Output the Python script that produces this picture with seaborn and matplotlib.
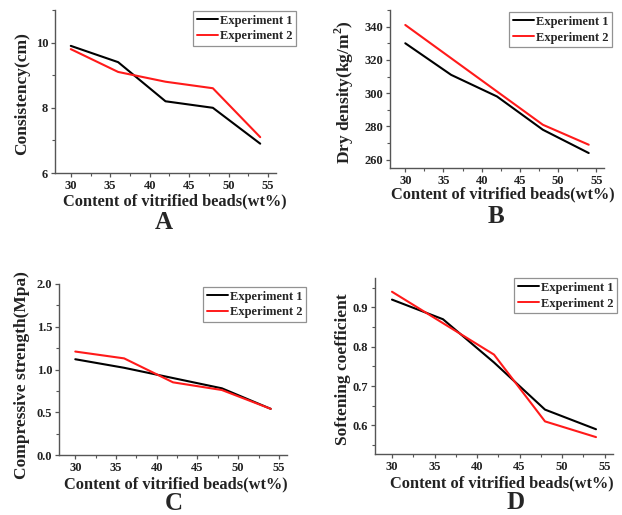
import numpy as np
import pandas as pd
import matplotlib
matplotlib.use("Agg")
import matplotlib.pyplot as plt
from matplotlib.ticker import MultipleLocator
from matplotlib.lines import Line2D
import seaborn as sns

# Vitrified bead content (wt%) shared by all four tests
content = [30, 36, 42, 48, 54]

# A: consistency (cm)
consistency_exp1 = [9.9, 9.4, 8.2, 8.0, 6.9]
consistency_exp2 = [9.8, 9.1, 8.8, 8.6, 7.1]

# B: dry density (kg/m2)
density_exp1 = [330, 311, 298, 278, 264]
density_exp2 = [341, 321, 301, 281, 269]

# C: compressive strength (MPa)
strength_exp1 = [1.12, 1.02, 0.90, 0.78, 0.54]
strength_exp2 = [1.21, 1.13, 0.85, 0.76, 0.54]

# D: softening coefficient
softening_exp1 = [0.92, 0.87, 0.76, 0.64, 0.59]
softening_exp2 = [0.94, 0.86, 0.78, 0.61, 0.57]

series_names = ["Experiment 1", "Experiment 2"]
panel_letters = ["A", "B", "C", "D"]
x_label = "Content of vitrified beads(wt%)"
y_labels = ["Consistency(cm)", "Dry density(kg/m$^2$)",
            "Compressive strength(Mpa)", "Softening coefficient"]

sns.set_theme(style="ticks")
plt.rcParams["font.family"] = ["Liberation Serif", "DejaVu Serif"]
plt.rcParams["font.weight"] = "bold"
plt.rcParams["mathtext.fontset"] = "custom"
plt.rcParams["mathtext.rm"] = "Liberation Serif:bold"

W, H = 622, 515
fig = plt.figure(figsize=(W / 100, H / 100), dpi=100)
fig.patch.set_facecolor("white")

palette = {"Experiment 1": "black", "Experiment 2": "#ff1a1a"}
axis_color = "#555555"


def px_axes(left, right, top, bottom):
    return [left / W, 1 - bottom / H, (right - left) / W, (bottom - top) / H]


def to_axes(ax_box, px, py):
    left, right, top, bottom = ax_box
    return (px - left) / (right - left), (bottom - py) / (bottom - top)


panels = [
    dict(box=(55, 276, 10, 173), e1=consistency_exp1, e2=consistency_exp2,
         ylim=(6, 11), major=2, minor=1, fmt="{:.0f}",
         xl=(175, 193), yl=(30, 94), letter=(164, 229), leg=(193, 11)),
    dict(box=(390, 604, 10, 168), e1=density_exp1, e2=density_exp2,
         ylim=(255, 350), major=20, minor=10, fmt="{:.0f}",
         xl=(503, 186), yl=(356, 92), letter=(496, 223), leg=(509, 12)),
    dict(box=(59, 287, 284, 455), e1=strength_exp1, e2=strength_exp2,
         ylim=(0, 2.0), major=0.5, minor=0.25, fmt="{:.1f}",
         xl=(176, 476), yl=(30, 375), letter=(174, 509.5), leg=(203, 287)),
    dict(box=(375, 613, 278, 454), e1=softening_exp1, e2=softening_exp2,
         ylim=(0.527, 0.975), major=0.1, minor=0.05, fmt="{:.1f}",
         xl=(502, 475), yl=(351, 369), letter=(516, 509), leg=(514, 278)),
]

for i, p in enumerate(panels):
    ax = fig.add_axes(px_axes(*p["box"]))
    df = pd.DataFrame({
        "content": content * 2,
        "value": p["e1"] + p["e2"],
        "series": [series_names[0]] * len(content) + [series_names[1]] * len(content),
    })
    sns.lineplot(data=df, x="content", y="value", hue="series",
                 palette=palette, linewidth=1.5, ax=ax, legend=False)
    ax.set_xlim(28, 56)
    ax.set_ylim(*p["ylim"])
    ax.xaxis.set_major_locator(MultipleLocator(5))
    ax.xaxis.set_minor_locator(MultipleLocator(2.5))
    ax.yaxis.set_major_locator(MultipleLocator(p["major"]))
    ax.yaxis.set_minor_locator(MultipleLocator(p["minor"]))
    ax.set_yticks([t for t in ax.get_yticks() if p["ylim"][0] - 1e-9 <= t <= p["ylim"][1] + 1e-9])
    ax.set_yticklabels([p["fmt"].format(t) for t in ax.get_yticks()])
    sns.despine(ax=ax)
    for s in ("left", "bottom"):
        ax.spines[s].set_color(axis_color)
        ax.spines[s].set_linewidth(1.0)
    ax.tick_params(which="major", length=3, width=0.9, color=axis_color,
                   labelsize=9, labelcolor="#222222", pad=2)
    ax.tick_params(which="minor", length=2, width=0.8, color=axis_color)
    for lab in ax.get_xticklabels() + ax.get_yticklabels():
        lab.set_fontweight("bold")

    ax.set_xlabel(x_label, fontsize=11.8, fontweight="bold", color="#222222")
    ax.xaxis.set_label_coords(*to_axes(p["box"], *p["xl"]))
    ax.set_ylabel(y_labels[i], fontsize=12.5, fontweight="bold", color="#222222")
    ax.yaxis.set_label_coords(*to_axes(p["box"], *p["yl"]))

    lx, ly = p["letter"]
    fig.text(lx / W, 1 - ly / H, panel_letters[i], fontsize=18,
             fontweight="bold", ha="center", va="baseline")

    handles = [Line2D([], [], color=palette[n], linewidth=1.4) for n in series_names]
    gx, gy = p["leg"]
    leg = fig.legend(handles, series_names, loc="upper left",
                     bbox_to_anchor=(gx / W, 1 - gy / H), frameon=True,
                     fancybox=False, fontsize=9, handlelength=1.7,
                     handletextpad=0.15, borderpad=0.3, labelspacing=0.3,
                     borderaxespad=0)
    leg.get_frame().set_edgecolor("#777777")
    leg.get_frame().set_linewidth(0.9)
    for t in leg.get_texts():
        t.set_fontweight("bold")

fig.savefig("out.png", dpi=100, facecolor="white")
